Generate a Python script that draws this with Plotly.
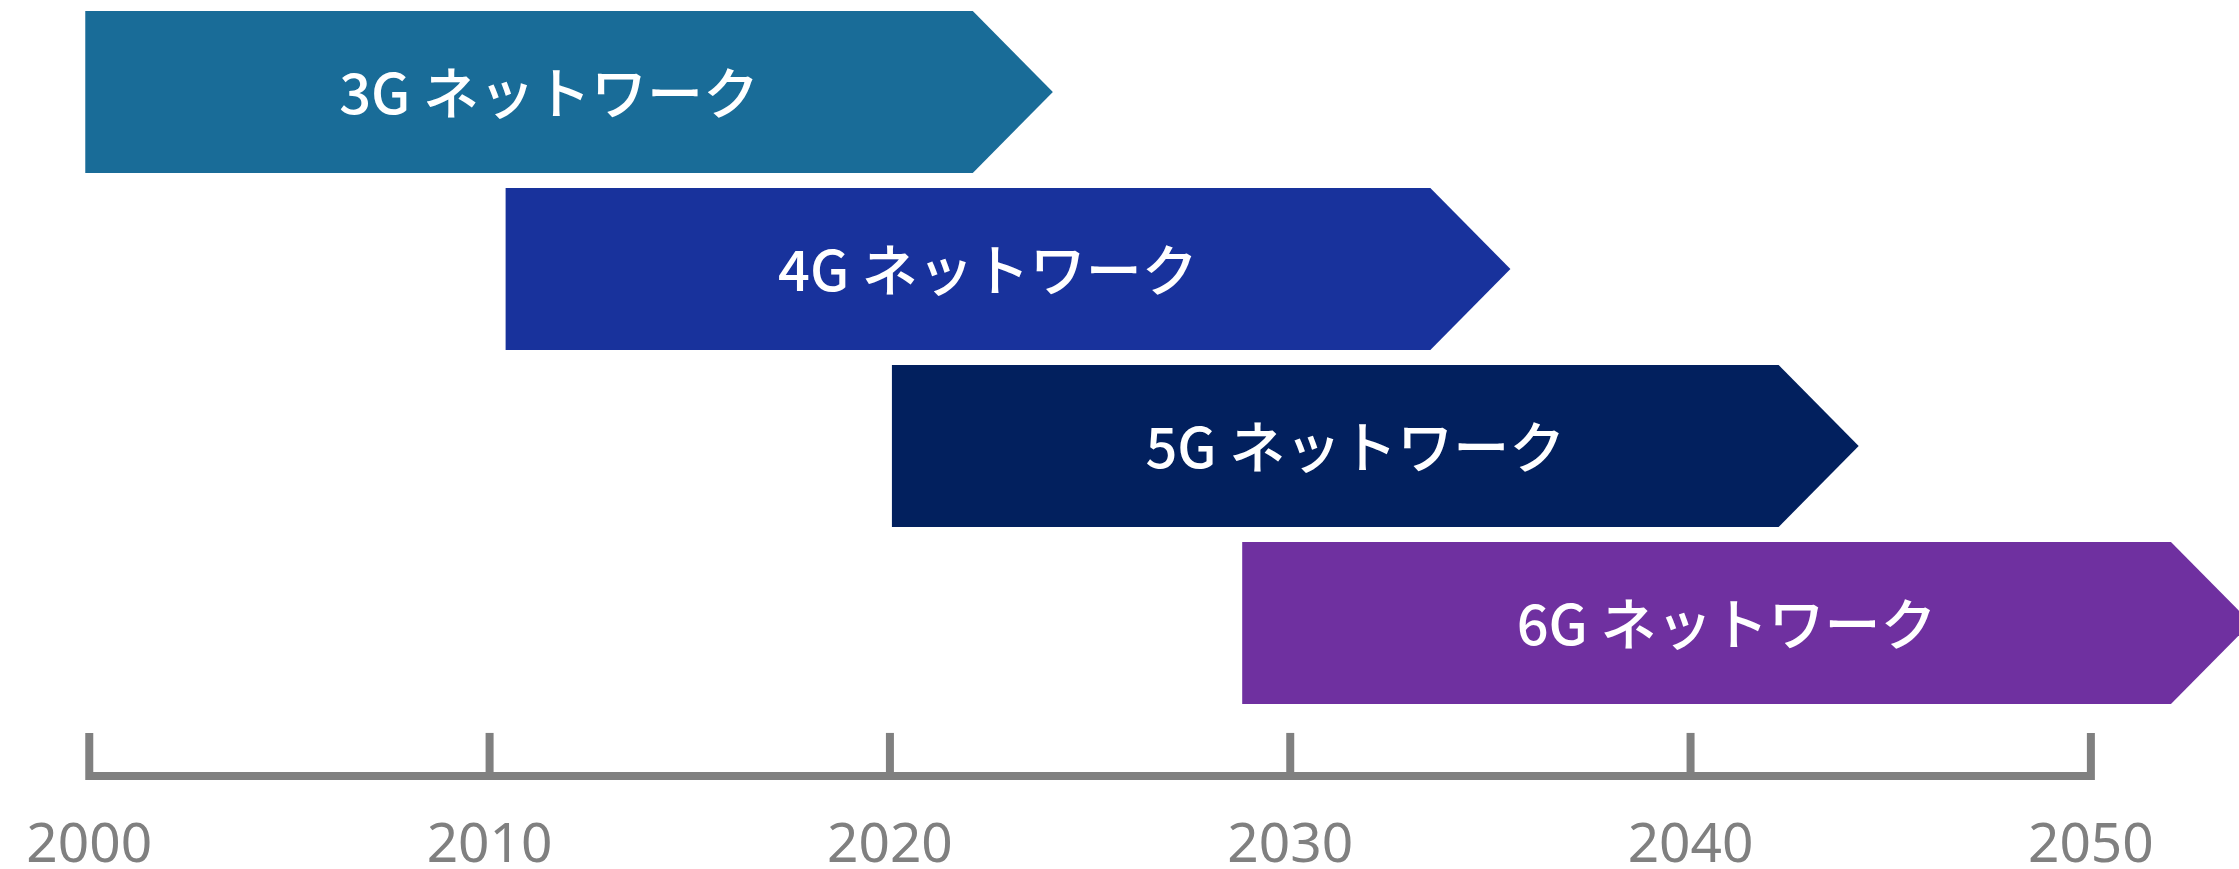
import plotly.graph_objects as go

# ---- data ----
generations = ["3G", "4G", "5G", "6G"]
bar_labels = ["3G ネットワーク", "4G ネットワーク", "5G ネットワーク", "6G ネットワーク"]
start_years = [1999.9, 2010.4, 2020.05, 2028.8]
end_years = [2022.07, 2033.5, 2042.2, 2052.0]   # where the arrow head begins
tick_years = [2000, 2010, 2020, 2030, 2040, 2050]
tick_labels = ["2000", "2010", "2020", "2030", "2040", "2050"]

# ---- styles ----
colors = ["#196C98", "#18329C", "#02205E", "#6F30A0"]
axis_color = "#808080"
HEAD = 2.0          # arrow head length (years)
HALF = 0.4576       # half bar height (row units)
TEXT_DY = 0.045
AXIS_Y = 3.864
TICK_TOP = 3.621
LABEL_Y = 4.272
X_RANGE = [1997.77, 2053.70]
Y_RANGE = [4.3898, -0.5198]

fig = go.Figure()

for i, (g, lab, s, e, c) in enumerate(zip(generations, bar_labels, start_years, end_years, colors)):
    xs = [s, e, e + HEAD, e, s, s]
    ys = [i - HALF, i - HALF, i, i + HALF, i + HALF, i - HALF]
    fig.add_trace(go.Scatter(
        x=xs, y=ys, mode="lines", fill="toself", fillcolor=c,
        line=dict(width=0, color=c), hoverinfo="skip", name=g))
    fig.add_trace(go.Scatter(
        x=[(s + e + HEAD / 2) / 2], y=[i + TEXT_DY], mode="text", text=[lab],
        textposition="middle center",
        textfont=dict(family="Noto Sans CJK JP", size=56, color="white", weight=500),
        hoverinfo="skip"))

# axis line with end ticks (one path) and inner ticks
ax_x = [tick_years[0], tick_years[0], tick_years[-1], tick_years[-1]]
ax_y = [TICK_TOP, AXIS_Y, AXIS_Y, TICK_TOP]
for t in tick_years[1:-1]:
    ax_x += [None, t, t]
    ax_y += [None, TICK_TOP, AXIS_Y]
fig.add_trace(go.Scatter(x=ax_x, y=ax_y, mode="lines",
                         line=dict(color=axis_color, width=8),
                         hoverinfo="skip", connectgaps=False))

fig.add_trace(go.Scatter(
    x=tick_years, y=[LABEL_Y] * len(tick_years), mode="text", text=tick_labels,
    textposition="middle center",
    textfont=dict(family="Noto Sans", size=55, color=axis_color),
    hoverinfo="skip", cliponaxis=False))

fig.update_layout(
    width=2239, height=869,
    margin=dict(l=0, r=0, t=0, b=0),
    paper_bgcolor="white", plot_bgcolor="white",
    showlegend=False,
    xaxis=dict(range=X_RANGE, visible=False, fixedrange=True),
    yaxis=dict(range=Y_RANGE, visible=False, fixedrange=True),
)

fig.write_html("out.html")
